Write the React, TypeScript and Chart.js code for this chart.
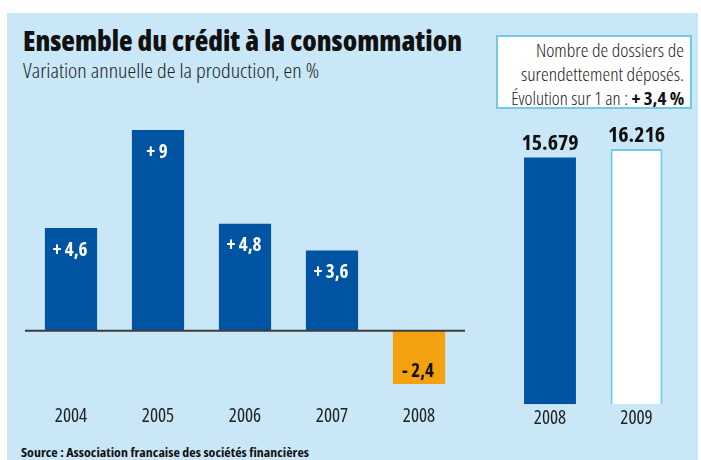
import React, { useEffect, useLayoutEffect, useRef } from 'react';
import { Chart, registerables } from 'chart.js';

Chart.register(...registerables);

// ---- data ----
const creditYears = ['2004', '2005', '2006', '2007', '2008'];
const creditChange = [4.6, 9, 4.8, 3.6, -2.4];
const creditLabels = ['+ 4,6', '+ 9', '+ 4,8', '+ 3,6', '- 2,4'];
const dossierYears = ['2008', '2009'];
const dossierCounts = [15.679, 16.216];
const dossierLabels = ['15.679', '16.216'];

const FAMILY = "'Open Sans', 'DejaVu Sans', sans-serif";
const BG = '#c9e7f7';
const BLUE = '#0054a2';
const ORANGE = '#f3a10f';
const CYAN = '#6fcbe8';

type FitProps = {
  children: React.ReactNode;
  x: number;
  top: number;
  width: number;
  size: number;
  weight?: number;
  align?: 'left' | 'right';
  color?: string;
};

function FitText({ children, x, top, width, size, weight = 400, align = 'left', color = '#111' }: FitProps) {
  const ref = useRef<HTMLSpanElement>(null);
  useLayoutEffect(() => {
    const el = ref.current;
    if (!el) return;
    const fit = () => {
      el.style.transform = 'none';
      const w = el.getBoundingClientRect().width;
      if (w > 0) el.style.transform = `scaleX(${width / w})`;
    };
    fit();
    const fonts = (document as any).fonts;
    if (fonts && fonts.ready) fonts.ready.then(fit);
  }, [width]);
  const pos: React.CSSProperties = align === 'left' ? { left: x } : { right: 701 - x };
  return (
    <span
      ref={ref}
      style={{
        position: 'absolute',
        top,
        ...pos,
        whiteSpace: 'nowrap',
        fontFamily: FAMILY,
        fontStretch: 'condensed',
        fontSize: size,
        fontWeight: weight,
        lineHeight: 1,
        color,
        transformOrigin: align === 'left' ? 'left top' : 'right top',
      }}
    >
      {children}
    </span>
  );
}

const creditPlugin = {
  id: 'creditDecor',
  afterDatasetsDraw(chart: any) {
    const { ctx, scales } = chart;
    const y0 = scales.y.getPixelForValue(0);
    ctx.save();
    ctx.strokeStyle = '#3c3c3c';
    ctx.lineWidth = 2;
    ctx.beginPath();
    ctx.moveTo(25, y0);
    ctx.lineTo(465, y0);
    ctx.stroke();
    const meta = chart.getDatasetMeta(0);
    ctx.textAlign = 'center';
    ctx.textBaseline = 'alphabetic';
    ctx.font = `bold condensed 19px ${FAMILY}`;
    meta.data.forEach((bar: any, i: number) => {
      const v = creditChange[i];
      if (v >= 0) {
        ctx.fillStyle = '#ffffff';
        ctx.fillText(creditLabels[i], bar.x - 1, bar.y + 27.5);
      } else {
        ctx.fillStyle = '#111111';
        ctx.fillText(creditLabels[i], bar.x - 1, bar.y - 7);
      }
    });
    ctx.restore();
  },
};

const dossierPlugin = {
  id: 'dossierDecor',
  afterDatasetsDraw(chart: any) {
    const { ctx } = chart;
    const meta = chart.getDatasetMeta(0);
    ctx.save();
    ctx.textAlign = 'center';
    ctx.textBaseline = 'alphabetic';
    ctx.font = `bold condensed 22px ${FAMILY}`;
    ctx.fillStyle = '#111111';
    meta.data.forEach((bar: any, i: number) => {
      ctx.fillText(dossierLabels[i], bar.x, bar.y - 7);
    });
    ctx.restore();
  },
};

export default function App() {
  const leftRef = useRef<HTMLCanvasElement>(null);
  const rightRef = useRef<HTMLCanvasElement>(null);

  useEffect(() => {
    document.body.style.margin = '0';
    // 'condensed' goes into the CSS font shorthand (Open Sans has a width axis)
    const tickFont: any = { family: FAMILY, size: 19, weight: 'condensed' };
    const left = new Chart(leftRef.current!, {
      type: 'bar',
      data: {
        labels: creditYears,
        datasets: [
          {
            data: creditChange,
            backgroundColor: creditChange.map((v) => (v >= 0 ? BLUE : ORANGE)),
            barPercentage: 0.6,
            categoryPercentage: 1,
          },
        ],
      },
      options: {
        responsive: false,
        animation: false,
        layout: { padding: { left: 27.5, right: 238.5, top: 130, bottom: 11 } },
        plugins: { legend: { display: false }, tooltip: { enabled: false } },
        scales: {
          x: {
            grid: { display: false, drawTicks: false },
            border: { display: false },
            ticks: { font: tickFont, color: '#222', padding: 21 },
          },
          y: { display: false, min: -2.4, max: 9 },
        },
      },
      plugins: [creditPlugin],
    });
    const right = new Chart(rightRef.current!, {
      type: 'bar',
      data: {
        labels: dossierYears,
        datasets: [
          {
            data: dossierCounts,
            backgroundColor: [BLUE, '#ffffff'],
            borderColor: [BLUE, CYAN],
            borderWidth: [0, 2],
            barPercentage: 0.6,
            categoryPercentage: 1,
          },
        ],
      },
      options: {
        responsive: false,
        animation: false,
        layout: { padding: { left: 506.75, right: 21.25, top: 149, bottom: 27 } },
        plugins: { legend: { display: false }, tooltip: { enabled: false } },
        scales: {
          x: {
            grid: { display: false, drawTicks: false },
            border: { display: false },
            ticks: { font: tickFont, color: '#222', padding: 3 },
          },
          y: { display: false, min: 0, max: 16.216 },
        },
      },
      plugins: [dossierPlugin],
    });
    return () => {
      left.destroy();
      right.destroy();
    };
  }, []);

  return (
    <div style={{ position: 'relative', width: 701, height: 460, background: '#ffffff', overflow: 'hidden' }}>
      <div style={{ position: 'absolute', left: 7, top: 13, width: 691, height: 447, background: BG }} />
      <FitText x={23} top={25} width={439} size={29} weight={800}>
        Ensemble du crédit à la consommation
      </FitText>
      <FitText x={23} top={61} width={296} size={20} weight={300} color="#222">
        Variation annuelle de la production, en %
      </FitText>
      <div
        style={{
          position: 'absolute',
          left: 496,
          top: 35,
          width: 196 - 4,
          height: 74 - 4,
          border: `2px solid ${CYAN}`,
          background: '#ffffff',
        }}
      />
      <FitText x={684} top={40.5} width={148} size={18} weight={300} align="right" color="#222">
        Nombre de dossiers de
      </FitText>
      <FitText x={684} top={64.7} width={163} size={18} weight={300} align="right" color="#222">
        surendettement déposés.
      </FitText>
      <FitText x={684} top={89} width={173} size={18} weight={300} align="right" color="#222">
        Évolution sur 1 an : <b style={{ color: '#111', fontWeight: 700 }}>+ 3,4 %</b>
      </FitText>
      <FitText x={21} top={445.5} width={288} size={13} weight={700}>
        Source : Association francaise des sociétés financières
      </FitText>
      <canvas ref={leftRef} width={701} height={460} style={{ position: 'absolute', left: 0, top: 0 }} />
      <canvas ref={rightRef} width={701} height={460} style={{ position: 'absolute', left: 0, top: 0 }} />
    </div>
  );
}
